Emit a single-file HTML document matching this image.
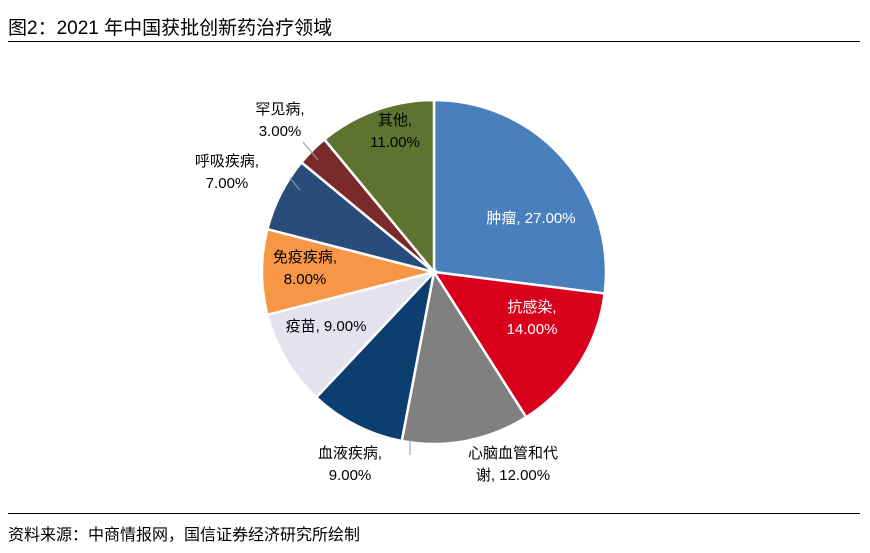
<!DOCTYPE html>
<html><head><meta charset="utf-8"><style>
body{margin:0;background:#fff;width:870px;height:553px;overflow:hidden;font-family:"Liberation Sans","Noto Sans CJK SC",sans-serif}
#title{position:absolute;left:8px;top:13px;font-size:19px;color:#000}
#tline{position:absolute;left:8px;top:41px;width:852px;height:1px;background:#000}
#bline{position:absolute;left:8px;top:513px;width:852px;height:1px;background:#000}
#src{position:absolute;left:8px;top:521px;font-size:16px;color:#000}
svg{position:absolute;left:0;top:0}
</style></head><body>
<div id="title">图2：2021 年中国获批创新药治疗领域</div>
<div id="tline"></div>
<svg id="chart" width="870" height="553"></svg>
<div id="bline"></div>
<div id="src">资料来源：中商情报网，国信证券经济研究所绘制</div>
<script>
const categories=["肿瘤","抗感染","心脑血管和代谢","血液疾病","疫苗","免疫疾病","呼吸疾病","罕见病","其他"];
const values=[27,14,12,9,9,8,7,3,11];
const colors=["#4a7fbd","#d9001b","#808080","#0c3e70","#e5e1ee","#f79646","#284d7a","#7a2a2a","#5e7330"];
const labelLines=[["肿瘤, 27.00%"],["抗感染,","14.00%"],["心脑血管和代","谢, 12.00%"],["血液疾病,","9.00%"],["疫苗, 9.00%"],["免疫疾病,","8.00%"],["呼吸疾病,","7.00%"],["罕见病,","3.00%"],["其他,","11.00%"]];
const labelPos=[[531,218],[532,318],[513,464],[350,464],[326,326],[305,268],[227,172],[280,120],[395,131]];
const labelColor=["#fff","#fff","#000","#000","#000","#000","#000","#000","#000"];
const cx=434,cy=272,r=172;
const svg=document.getElementById('chart');
const NS="http://www.w3.org/2000/svg";
const total=values.reduce((a,b)=>a+b,0);
function pt(a,rad){return [cx+rad*Math.sin(a),cy-rad*Math.cos(a)];}
let acc=0;
values.forEach((v,i)=>{
  const a0=acc/total*2*Math.PI;acc+=v;const a1=acc/total*2*Math.PI;
  const p0=pt(a0,r),p1=pt(a1,r);
  const p=document.createElementNS(NS,'path');
  p.setAttribute('d',`M${cx},${cy}L${p0[0]},${p0[1]}A${r},${r} 0 ${a1-a0>Math.PI?1:0} 1 ${p1[0]},${p1[1]}Z`);
  p.setAttribute('fill',colors[i]);p.setAttribute('stroke','#fff');p.setAttribute('stroke-width','2.5');
  
  
  svg.appendChild(p);
});
// leader lines
[[[290,178],[300,190]],[[303,142],[318,160]],[[410,440],[410,455]]].forEach((l,k)=>{
  const ln=document.createElementNS(NS,'line');
  ln.setAttribute('x1',l[0][0]);ln.setAttribute('y1',l[0][1]);ln.setAttribute('x2',l[1][0]);ln.setAttribute('y2',l[1][1]);
  ln.setAttribute('stroke','#999');ln.setAttribute('stroke-width','1');
  
  
  svg.appendChild(ln);
});
labelLines.forEach((lines,i)=>{
  const t=document.createElementNS(NS,'text');
  t.setAttribute('text-anchor','middle');t.setAttribute('font-size','15');t.setAttribute('fill',labelColor[i]);
  t.setAttribute('font-family','"Liberation Sans","Noto Sans CJK SC",sans-serif');
  
  
  const y0=labelPos[i][1]-(lines.length-1)*11;
  lines.forEach((s,j)=>{
    const ts=document.createElementNS(NS,'tspan');
    ts.setAttribute('x',labelPos[i][0]);ts.setAttribute('y',y0+j*22+5);ts.textContent=s;
    t.appendChild(ts);
  });
  svg.appendChild(t);
});
</script>
</body></html>
